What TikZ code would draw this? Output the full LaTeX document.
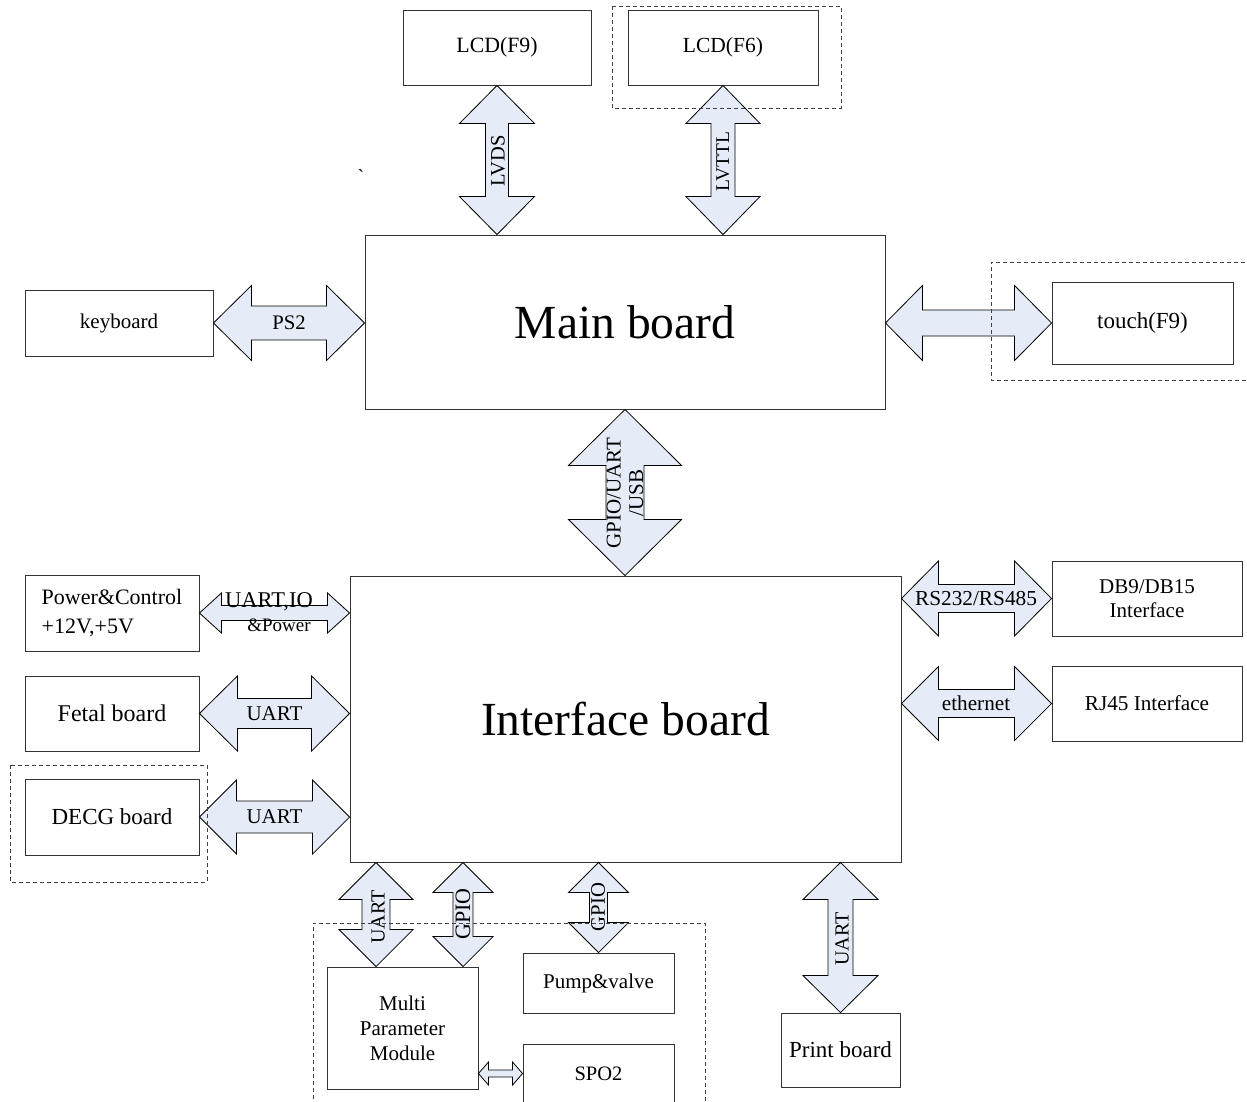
\documentclass[tikz,border=0pt]{standalone}
\usepackage{fontspec}
\setmainfont{Liberation Serif}
\usetikzlibrary{calc}
\definecolor{arrfill}{HTML}{E5ECF7}
\newcommand\fsz[1]{\fontsize{#1}{#1}\selectfont}
% vertical double arrow: top tip, bottom tip, head half-width, shaft half-width, head length
\newcommand\varr[5]{%
  \draw[arrsty] let \p1=(#1), \p2=(#2) in
  (\x1,\y1) -- (\x1+#3pt,\y1-#5pt) -- (\x1+#4pt,\y1-#5pt) -- (\x1+#4pt,\y2+#5pt)
  -- (\x1+#3pt,\y2+#5pt) -- (\x1,\y2) -- (\x1-#3pt,\y2+#5pt) -- (\x1-#4pt,\y2+#5pt)
  -- (\x1-#4pt,\y1-#5pt) -- (\x1-#3pt,\y1-#5pt) -- cycle;}
% horizontal double arrow: left tip, right tip, head half-height, shaft half-height, head length
\newcommand\harr[5]{%
  \draw[arrsty] let \p1=(#1), \p2=(#2) in
  (\x1,\y1) -- (\x1+#5pt,\y1+#3pt) -- (\x1+#5pt,\y1+#4pt) -- (\x2-#5pt,\y1+#4pt)
  -- (\x2-#5pt,\y1+#3pt) -- (\x2,\y1) -- (\x2-#5pt,\y1-#3pt) -- (\x2-#5pt,\y1-#4pt)
  -- (\x1+#5pt,\y1-#4pt) -- (\x1+#5pt,\y1-#3pt) -- cycle;}
\begin{document}
\begin{tikzpicture}[x=1pt,y=-1pt,
  box/.style={draw=black!80, line width=0.9pt, inner sep=0pt, align=center},
  arrsty/.style={draw=black, line width=0.8pt, fill=arrfill, line join=miter},
  dbox/.style={draw=black!75, line width=0.9pt, dash pattern=on 4pt off 3pt},
  lbl/.style={inner sep=0pt, align=center}]
\useasboundingbox (0,0) rectangle (1247,1101);
\clip (0,0) rectangle (1247,1101);
\fill[white] (0,0) rectangle (1247,1101);

% boxes
\node[box, minimum width=188, minimum height=75, font=\fsz{21.8}] (lcd9) at (497,47.5) {LCD(F9)};
\node[box, minimum width=190, minimum height=75, font=\fsz{21.5}] (lcd6) at (723,47.5) {LCD(F6)};
\node[box, minimum width=520, minimum height=174, font=\fsz{47.5}] (main) at (625,322) {Main board};
\node[box, minimum width=188, minimum height=66, font=\fsz{21}] (kbd) at (119,323) {keyboard};
\node[box, minimum width=181, minimum height=82, font=\fsz{23}] (touch) at (1142.5,323) {touch(F9)};
\node[box, minimum width=551, minimum height=286, font=\fsz{47.5}] (iface) at (625.5,719) {Interface board};
\node[box, minimum width=174, minimum height=76, align=left, font=\fontsize{22}{29}\selectfont] (power) at (112,613) {Power\&Control\\+12V,+5V};
\node[box, minimum width=174, minimum height=75, font=\fsz{24}] (fetal) at (112,713.5) {Fetal board};
\node[box, minimum width=174, minimum height=76, font=\fsz{23}] (decg) at (112,817) {DECG board};
\node[box, minimum width=190, minimum height=75, font=\fontsize{21}{24}\selectfont] (db9) at (1147,598.5) {DB9/DB15\\Interface};
\node[box, minimum width=190, minimum height=75, font=\fsz{21.2}] (rj45) at (1147,703.5) {RJ45 Interface};
\node[box, minimum width=151, minimum height=122, font=\fontsize{21}{25}\selectfont] (multi) at (402.5,1028) {Multi\\Parameter\\Module};
\node[box, minimum width=151, minimum height=60, font=\fsz{21}] (pump) at (598.5,983) {Pump\&valve};
\node[box, minimum width=151, minimum height=59, font=\fsz{20.5}] (spo2) at (598.5,1073.5) {SPO2};
\node[box, minimum width=119, minimum height=74, font=\fsz{23}] (print) at (840.5,1050) {Print board};

\coordinate (ua) at (376,0);
\coordinate (gb) at (463,0);

% connectors
\varr{lcd9.south}{main.north -| lcd9.south}{37.5}{11.5}{38}
\varr{lcd6.south}{main.north -| lcd6.south}{37}{12}{38}
\varr{main.south}{iface.north -| main.south}{56.5}{19}{56}
\harr{kbd.east}{main.west |- kbd.east}{37.5}{17}{38}
\harr{main.east |- touch.west}{touch.west}{37.5}{13}{37}
\harr{power.east}{iface.west |- power.east}{20}{7.5}{22}
\harr{fetal.east}{iface.west |- fetal.east}{37.5}{15}{38}
\harr{decg.east}{iface.west |- decg.east}{37}{16}{37}
\harr{iface.east |- db9.west}{db9.west}{37.5}{14}{37}
\harr{iface.east |- rj45.west}{rj45.west}{37}{14}{37}
\varr{iface.south -| ua}{multi.north -| ua}{37}{14}{37}
\varr{iface.south -| gb}{multi.north -| gb}{30}{10}{30}
\varr{iface.south -| pump.north}{pump.north}{30}{9}{30}
\varr{iface.south -| print.north}{print.north}{37.5}{12.5}{37}
\harr{multi.east |- spo2.west}{spo2.west}{11.5}{3.5}{10}

% connector labels
\node[lbl, rotate=90, font=\fsz{20.5}] (tlvds) at (498,161) {LVDS};
\node[lbl, rotate=90, font=\fsz{19.5}] (tlvttl) at (723,162) {LVTTL};
\node[lbl, rotate=90, font=\fontsize{21}{22.5}\selectfont] (tgpio) at (625,493) {GPIO/UART\\/USB};
\node[lbl, font=\fsz{20.7}] (tps2) at (289,323) {PS2};
\node[lbl, font=\fsz{22.5}] (tpow1) at (269,602) {UART,IO};
\node[lbl, font=\fsz{19}] (tpow2) at (279,625) {\&Power};
\node[lbl, font=\fsz{21}] (tfetal) at (274.5,714) {UART};
\node[lbl, font=\fsz{21}] (tdecg) at (274.5,817) {UART};
\node[lbl, font=\fsz{21.3}] (trs) at (976,599) {RS232/RS485};
\node[lbl, font=\fsz{21.2}] (teth) at (976,703) {ethernet};
\node[lbl, rotate=90, font=\fsz{20}] (tuartb) at (378,917) {UART};
\node[lbl, rotate=90, font=\fsz{22}] (tg1) at (463,914) {GPIO};
\node[lbl, rotate=90, font=\fsz{20.7}] (tg2) at (598,907) {GPIO};
\node[lbl, rotate=90, font=\fsz{20}] (tuartp) at (842,939) {UART};
\node[lbl, font=\fsz{20}] (tick) at (361,177) {\textasciigrave};

% dashed groups
\draw[dbox] (612,6) rectangle (841,108);
\draw[dbox] (1252,262) -- (991,262) -- (991,380) -- (1252,380);
\draw[dbox] (10,765) rectangle (207,882);
\draw[dbox] (313,1106) -- (313,923) -- (705,923) -- (705,1106);
\end{tikzpicture}
\end{document}
